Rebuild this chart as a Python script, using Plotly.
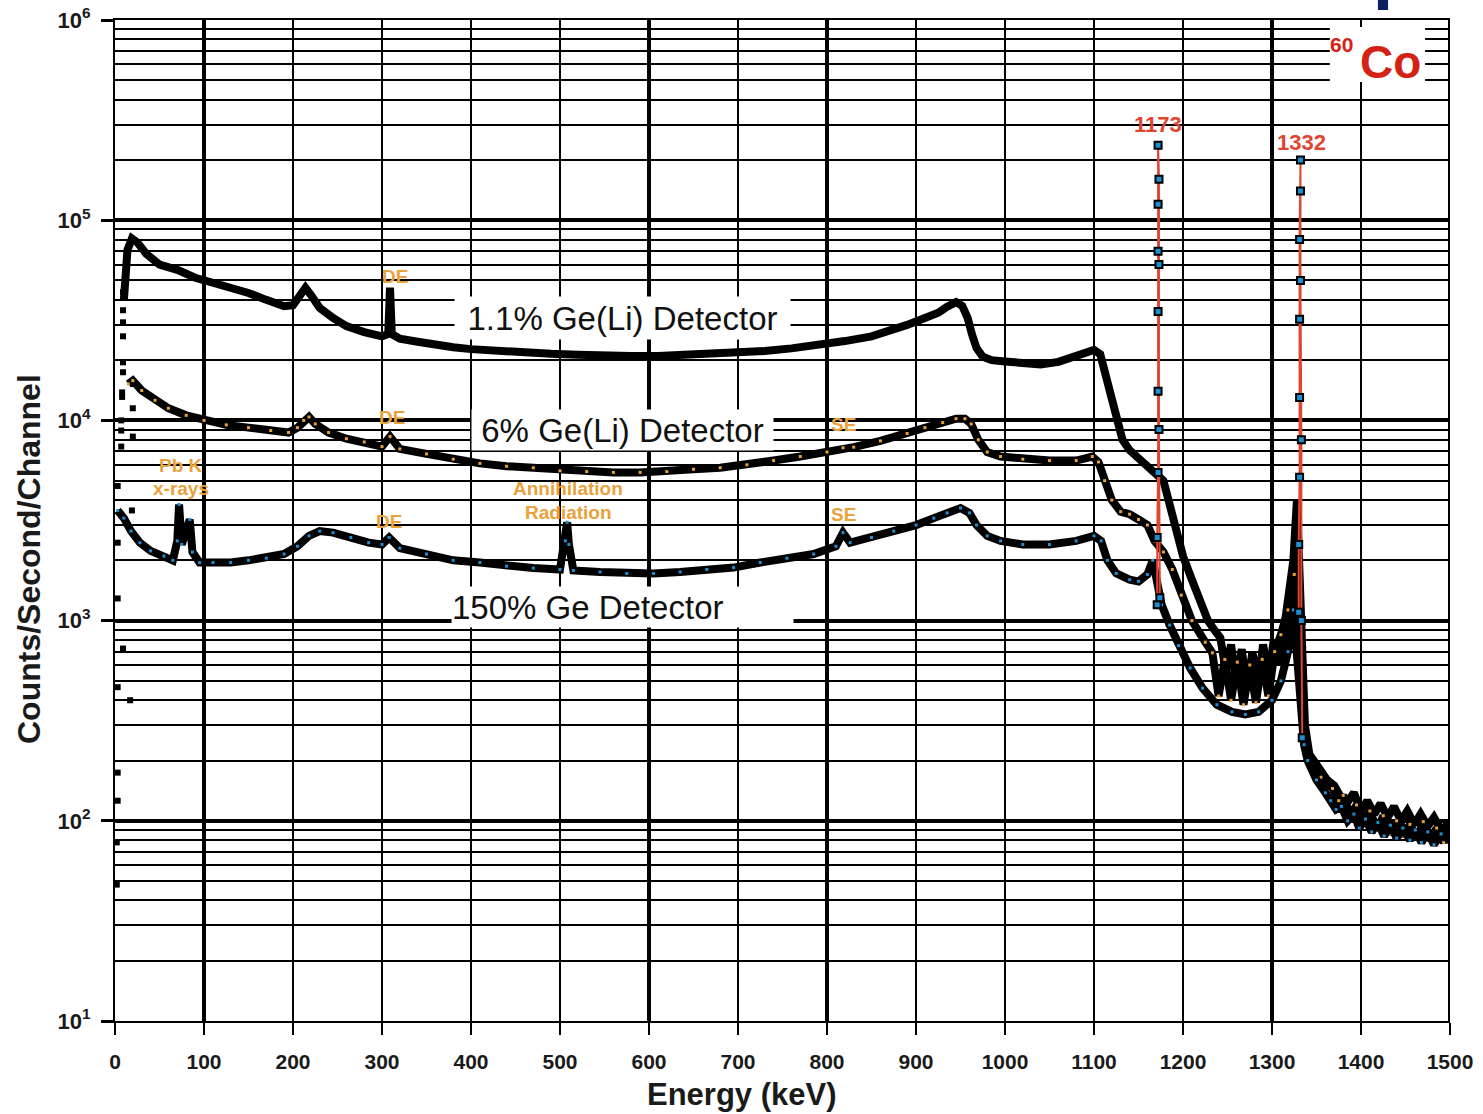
import plotly.graph_objects as go

# ---------------- data ----------------
S1_ENERGY = [10, 14, 19, 25, 35, 50, 70, 90, 110, 130, 150, 170, 190, 200, 208, 214, 220, 230, 245, 260,
             280, 300, 307, 309, 311, 320, 340, 360, 380, 400, 430, 460, 490, 520, 550, 580, 610, 640, 670,
             700, 730, 760, 790, 820, 850, 870, 890, 910, 925, 935, 945, 952, 958, 963, 968, 975, 985, 1000,
             1020, 1040, 1060, 1075, 1090, 1100, 1107, 1112, 1118, 1125, 1132, 1140, 1150, 1160, 1168,
             1178, 1185, 1192, 1200, 1210, 1220, 1228, 1235, 1242, 1248, 1254, 1260, 1266, 1272, 1278, 1284,
             1290, 1296, 1302, 1308, 1314, 1318, 1324, 1328,
             1337, 1342, 1352, 1362, 1370, 1377, 1385, 1392, 1400, 1407, 1415, 1422, 1430, 1437, 1445, 1452,
             1460, 1467, 1475, 1482, 1490, 1500]
S1_COUNTS = [40000, 71000, 81000, 77500, 68000, 60000, 56500, 51600, 48700, 46000, 43300, 40000, 37200, 37600,
             42400, 46000, 42400, 36500, 32500, 29600, 27600, 26300, 27000, 46000, 27000, 25600, 24700, 23700,
             23200, 22700, 22200, 22000, 21500, 21300, 21000, 21000, 21000, 21300, 21300, 21700, 22200, 22900,
             23700, 24900, 26300, 27900, 30000, 32500, 34500, 37000, 39000, 37300, 32500, 26800, 23000, 20800,
             20000, 19700, 19400, 19000, 19600, 20600, 21700, 22500, 21400, 17400, 13400, 10000, 8000, 7100,
             6500, 6000, 5500,
             5000, 3800, 2800, 2100, 1600, 1200, 1000, 900, 820, 560, 760, 480, 720, 450, 700, 470,
             760, 520, 800, 600, 900, 1260, 2000, 4000,
             300, 215, 185, 160, 150, 132, 124, 138, 112, 126, 108, 122, 104, 118, 100, 112,
             96, 108, 94, 104, 90, 98]

S2_ENERGY = [15, 20, 30, 45, 60, 80, 100, 125, 150, 175, 195, 205, 212, 218, 225, 240, 260, 280, 300, 309,
             320, 350, 380, 410, 440, 470, 500, 530, 560, 590, 620, 650, 680, 710, 740, 770, 800, 818, 830,
             860, 890, 910, 930, 945, 955, 962, 970, 980, 995, 1020, 1050, 1080, 1098, 1105, 1112, 1120,
             1130, 1140, 1150, 1160, 1168,
             1178, 1188, 1198, 1210, 1225, 1233, 1240, 1247, 1254, 1261, 1268, 1275, 1282, 1289, 1296,
             1303, 1310, 1318, 1325,
             1337, 1345, 1355, 1368, 1375, 1380, 1388, 1395, 1403, 1410, 1418, 1425, 1433, 1440, 1448, 1455,
             1463, 1470, 1478, 1485, 1493, 1500]
S2_COUNTS = [15200, 15800, 14100, 12600, 11500, 10600, 10000, 9500, 9200, 8900, 8700, 9200, 10000, 10400,
             9600, 8700, 8100, 7800, 7400, 8300, 7200, 6800, 6400, 6100, 5900, 5800, 5600, 5550, 5500, 5500,
             5550, 5700, 5800, 6000, 6300, 6600, 6950, 7300, 7350, 7900, 8600, 9200, 9750, 10200, 10200,
             9600, 8000, 6950, 6600, 6400, 6300, 6300, 6600, 6200, 5000, 4000, 3500, 3400, 3200, 3000, 2500,
             2200, 1800, 1340, 1000, 780, 690, 420, 640, 400, 620, 380, 600, 390, 640, 420,
             700, 850, 1130, 1700,
             250, 190, 165, 145, 126, 134, 106, 120, 98, 112, 90, 106, 86, 100, 84, 96,
             82, 99, 80, 92, 78, 95]

S3_ENERGY = [3, 10, 18, 28, 40, 55, 65, 70, 72, 75, 84, 87, 95, 110, 130, 150, 170, 190, 205, 218, 230, 245,
             265, 285, 300, 308, 320, 350, 380, 410, 440, 470, 500, 506, 508, 510, 515, 545, 575, 605, 635,
             665, 695, 725, 755, 785, 810, 818, 826, 850, 875, 900, 920, 935, 950, 960, 968, 980, 995, 1020,
             1050, 1080, 1100, 1108, 1115, 1125, 1140, 1150, 1160, 1166,
             1176, 1185, 1195, 1208, 1222, 1238, 1255, 1270, 1285, 1300, 1310, 1318, 1324,
             1336, 1340, 1350, 1360, 1366, 1372, 1378, 1385, 1392, 1398, 1405, 1412, 1419, 1426, 1433, 1440,
             1447, 1455, 1461, 1468, 1475, 1482, 1490, 1500]
S3_COUNTS = [3550, 3250, 2800, 2450, 2230, 2100, 2000, 2500, 3800, 2400, 3200, 2200, 1950, 1950, 1950, 2000,
             2050, 2150, 2350, 2650, 2800, 2750, 2600, 2450, 2400, 2600, 2300, 2150, 2000, 1950, 1870, 1830,
             1800, 2500, 3100, 2400, 1780, 1750, 1720, 1720, 1750, 1800, 1840, 1950, 2050, 2150, 2350, 2750,
             2450, 2600, 2800, 3000, 3250, 3450, 3650, 3450, 3000, 2650, 2500, 2400, 2400, 2500, 2650, 2500,
             2000, 1720, 1600, 1570, 1700, 2000,
             1200, 950, 750, 580, 460, 380, 350, 340, 350, 400, 500, 700, 1130,
             240, 200, 160, 138, 126, 114, 118, 100, 108, 92, 102, 88, 98, 84, 95, 82,
             92, 80, 90, 78, 88, 76, 86, 80]

LOW_ENERGY = [9, 9, 9, 9, 9, 9, 8, 8, 20, 7, 7, 20, 7, 3, 19, 3, 3, 9, 3, 17, 3, 3, 2, 2]
LOW_COUNTS = [43700, 35500, 30900, 26300, 19500, 17400, 13800, 13100, 11500, 10000, 8900, 8300, 7400, 4700,
              3550, 2450, 1290, 725, 465, 400, 174, 126, 78, 48]

PEAK1173_ENERGY = [1171, 1171, 1172, 1172, 1172, 1172, 1172, 1172, 1173, 1173, 1173, 1174]
PEAK1173_COUNTS = [1200, 2600, 5500, 14000, 35000, 70000, 120000, 237000, 160000, 60000, 9000, 1300]
PEAK1332_ENERGY = [1330, 1330, 1331, 1331, 1331, 1331, 1332, 1332, 1332, 1333, 1333, 1334]
PEAK1332_COUNTS = [1100, 2400, 5200, 13000, 32000, 80000, 200000, 140000, 50000, 8000, 1000, 260]

X_TICKS = list(range(0, 1501, 100))
Y_DECADES = [1, 2, 3, 4, 5, 6]
Y_TICK_TEXT = ["10<sup>%d</sup>" % k for k in Y_DECADES]

SERIES_LABELS = ["1.1% Ge(Li) Detector", "6% Ge(Li) Detector", "150% Ge Detector"]

# ---------------- figure ----------------
FONT = "Liberation Sans, Arial, Helvetica, sans-serif"
ORANGE = "#E9A13B"
RED = "#E0452F"
BLUE = "#1E8FD2"

fig = go.Figure()

fig.add_trace(go.Scatter(x=S1_ENERGY, y=S1_COUNTS, mode="lines", name=SERIES_LABELS[0],
                         line=dict(color="black", width=8)))
fig.add_trace(go.Scatter(x=S2_ENERGY, y=S2_COUNTS, mode="lines+markers", name=SERIES_LABELS[1],
                         line=dict(color="black", width=8),
                         marker=dict(symbol="square", size=3, color=ORANGE)))
fig.add_trace(go.Scatter(x=S3_ENERGY, y=S3_COUNTS, mode="lines+markers", name=SERIES_LABELS[2],
                         line=dict(color="black", width=8),
                         marker=dict(symbol="square", size=3, color=BLUE)))
fig.add_trace(go.Scatter(x=LOW_ENERGY, y=LOW_COUNTS, mode="markers", name="low",
                         marker=dict(symbol="square", size=6, color="black")))
for pe, pc in [(PEAK1173_ENERGY, PEAK1173_COUNTS), (PEAK1332_ENERGY, PEAK1332_COUNTS)]:
    fig.add_trace(go.Scatter(x=pe, y=pc, mode="lines+markers",
                             line=dict(color=RED, width=2),
                             marker=dict(symbol="square", size=7, color=BLUE,
                                         line=dict(color="black", width=2))))

minor_vals = [m * 10 ** k for k in range(1, 6) for m in range(2, 10)]

fig.update_layout(
    template="none",
    width=1483, height=1114,
    margin=dict(l=115, r=33, t=20, b=93),
    paper_bgcolor="white", plot_bgcolor="white",
    showlegend=False,
    xaxis=dict(range=[0, 1500], tickmode="array", tickvals=X_TICKS,
               showgrid=True, gridcolor="black", gridwidth=2,
               ticks="outside", ticklen=12, tickwidth=2, tickcolor="black",
               ticklabelstandoff=9,
               showline=True, linecolor="black", linewidth=2, mirror=True,
               zeroline=False, automargin=False,
               tickfont=dict(family=FONT, size=21, color="#1a1a1a", weight="bold")),
    yaxis=dict(type="log", range=[1, 6], tickmode="array",
               tickvals=[10 ** k for k in Y_DECADES], ticktext=Y_TICK_TEXT,
               showgrid=True, gridcolor="black", gridwidth=4,
               ticks="outside", ticklen=12, tickwidth=3, tickcolor="black",
               ticklabelstandoff=6,
               showline=True, linecolor="black", linewidth=2,
               zeroline=False, automargin=False,
               minor=dict(tickmode="array", tickvals=minor_vals, showgrid=True,
                          gridcolor="black", gridwidth=2, ticks=""),
               tickfont=dict(family=FONT, size=22, color="#1a1a1a", weight="bold")),
)

shapes = []
for xv in [100, 600, 800, 1300]:
    shapes.append(dict(type="line", xref="x", yref="paper", x0=xv, x1=xv, y0=0, y1=1,
                       line=dict(color="black", width=4), layer="below"))
shapes.append(dict(type="line", xref="x", yref="paper", x0=1500, x1=1500, y0=0, y1=1,
                   line=dict(color="black", width=4), layer="above"))
# white patch behind 60Co label
shapes.append(dict(type="rect", xref="x", yref="paper", x0=1365, x1=1472, y0=0.938, y1=0.993,
                   fillcolor="white", line=dict(width=0), layer="above"))
# small navy mark at top edge
shapes.append(dict(type="rect", xref="paper", yref="paper", x0=0.946, x1=0.9536, y0=1.010, y1=1.03,
                   fillcolor="#0B1F5E", line=dict(width=0), layer="above"))
fig.update_layout(shapes=shapes)

ann = []
ann.append(dict(x=570, y=4.511, xref="x", yref="y", text=SERIES_LABELS[0], showarrow=False,
                bgcolor="white", width=335, height=42, borderpad=0,
                font=dict(family=FONT, size=33, color="#111111")))
ann.append(dict(x=570, y=3.952, xref="x", yref="y", text=SERIES_LABELS[1], showarrow=False,
                bgcolor="white", width=301, height=40, borderpad=0,
                font=dict(family=FONT, size=33, color="#111111")))
ann.append(dict(x=570, y=3.068, xref="x", yref="y", text=SERIES_LABELS[2], showarrow=False,
                bgcolor="white", width=341, height=40, borderpad=0, align="left",
                font=dict(family=FONT, size=33, color="#111111")))

orange_labels = [
    ("DE", 315, 4.721), ("DE", 311, 4.017), ("DE", 308, 3.497),
    ("SE", 818, 3.982), ("SE", 819, 3.532),
    ("Pb K", 74, 3.777), ("x-rays", 74, 3.662),
    ("Annihilation", 509, 3.662), ("Radiation", 509, 3.542),
]
for t, xv, yv in orange_labels:
    ann.append(dict(x=xv, y=yv, xref="x", yref="y", text=t, showarrow=False,
                    font=dict(family=FONT, size=19, color=ORANGE, weight="bold")))

ann.append(dict(x=1172, y=5.48, xref="x", yref="y", text="1173", showarrow=False,
                font=dict(family=FONT, size=22, color=RED, weight="bold")))
ann.append(dict(x=1333, y=5.386, xref="x", yref="y", text="1332", showarrow=False,
                font=dict(family=FONT, size=22, color=RED, weight="bold")))
ann.append(dict(x=1433, y=5.79, xref="x", yref="y", text="Co", showarrow=False,
                font=dict(family=FONT, size=46, color="#D42314", weight="bold")))
ann.append(dict(x=1378, y=5.88, xref="x", yref="y", text="60", showarrow=False,
                font=dict(family=FONT, size=21, color="#D42314", weight="bold")))

# axis titles
ann.append(dict(x=(742 - 115) / 1335, y=-73 / 1001, xref="paper", yref="paper",
                xanchor="center", yanchor="middle",
                text="Energy (keV)", showarrow=False,
                font=dict(family=FONT, size=31, color="#1a1a1a", weight="bold")))
ann.append(dict(x=(29 - 115) / 1335, y=(1021 - 559) / 1001, xref="paper", yref="paper",
                xanchor="center", yanchor="middle",
                text="Counts/Second/Channel", showarrow=False, textangle=-90,
                font=dict(family=FONT, size=32, color="#1a1a1a", weight="bold")))
fig.update_layout(annotations=ann)

fig.write_html("out.html", config={"displayModeBar": False},
               post_script="document.body.style.margin='0';document.body.style.overflow='hidden';")
